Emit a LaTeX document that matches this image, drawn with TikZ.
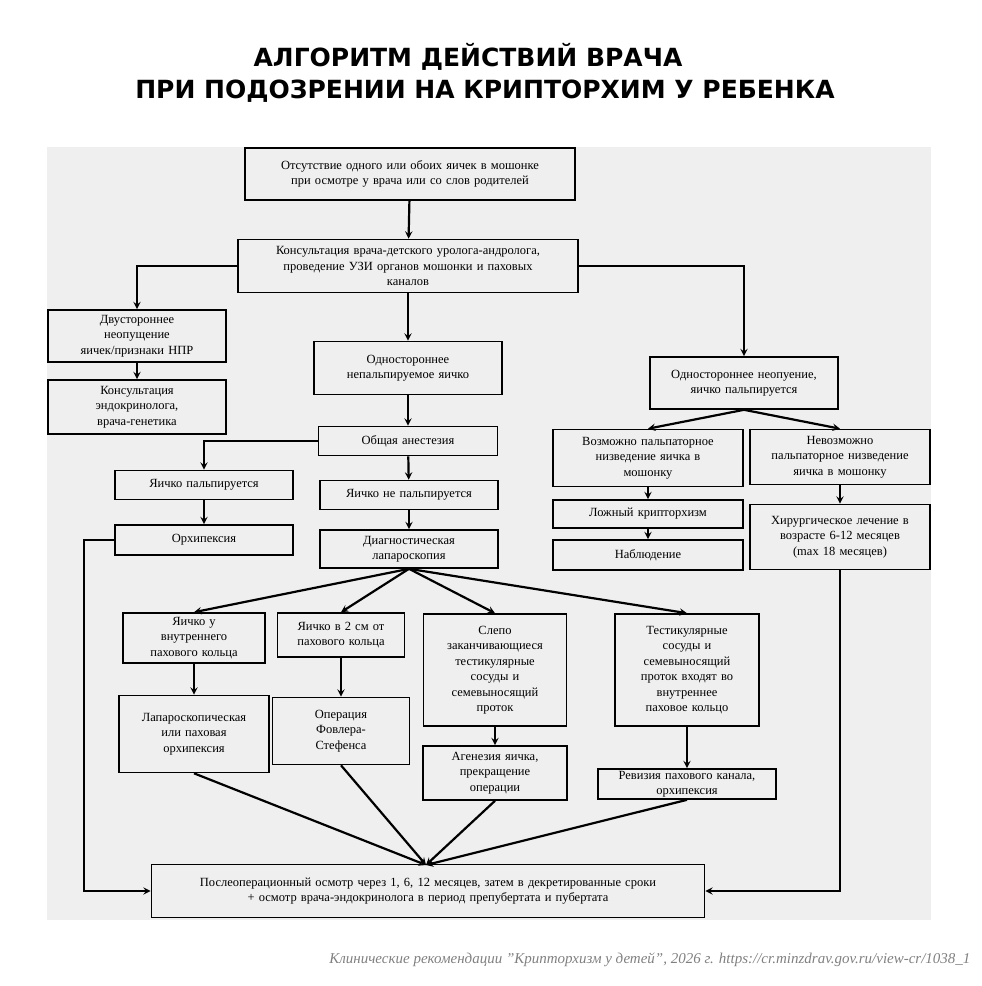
\documentclass[tikz,border=0pt]{standalone}
\usepackage{fontspec}
\setmainfont{Liberation Serif}
\newfontfamily\titlefont{DejaVu Sans}
\usetikzlibrary{arrows}
\definecolor{bgGray}{HTML}{EFEFEF}
\tikzstyle{block} = [rectangle, draw=black, line width=1.6pt, fill=bgGray, inner sep=0pt, align=center, font=\fontsize{12.5}{15.5}\selectfont]
\tikzstyle{arrow} = [line width=2.2pt,->,>=stealth]
\tikzset{bsize/.style 2 args={minimum width=#1pt, minimum height=#2pt, text width=#1pt-4pt}}

\begin{document}
\begin{tikzpicture}[x=1pt, y=-1pt]
\useasboundingbox (0,0) rectangle (982,986);
% Background and title
\fill[bgGray] (47,147) rectangle (931,920);
\node[font=\titlefont\bfseries\fontsize{25}{30}\selectfont] (title1) at (468,57) {АЛГОРИТМ ДЕЙСТВИЙ ВРАЧА};
\node[font=\titlefont\bfseries\fontsize{25}{30}\selectfont] (title2) at (485,91) {ПРИ ПОДОЗРЕНИИ НА КРИПТОРХИМ У РЕБЕНКА};
% Define nodes
\node (absent) [block, bsize={330}{52}] at (410,174) {Отсутствие одного или обоих яичек в мошонке\\при осмотре у врача или со слов родителей};
\node (consult) [block, bsize={340}{53}] at (408,266) {Консультация врача-детского уролога-андролога,\\проведение УЗИ органов мошонки и паховых\\каналов};
\node (bilateral) [block, bsize={178}{52}] at (137,336) {Двустороннее\\неопущение\\яичек/признаки НПР};
\node (endo) [block, bsize={178}{54}] at (137,407) {Консультация\\эндокринолога,\\врача-генетика};
\node (nonpalp) [block, bsize={188}{53}] at (408,368) {Одностороннее\\непальпируемое яичко};
\node (palp) [block, bsize={188}{52}] at (744,383) {Одностороннее неопуение,\\яичко пальпируется};
\node (anest) [block, bsize={179}{29}] at (408,441) {Общая анестезия};
\node (ypalp) [block, bsize={178}{29}] at (204,485) {Яичко пальпируется};
\node (orch) [block, bsize={178}{30}] at (204,540) {Орхипексия};
\node (ynonpalp) [block, bsize={178}{29}] at (409,495) {Яичко не пальпируется};
\node (lap) [block, bsize={178}{38}] at (409,549) {Диагностическая\\лапароскопия};
\node (possible) [block, bsize={190}{57}] at (648,458) {Возможно пальпаторное\\низведение яичка в\\мошонку};
\node (impossible) [block, bsize={180}{55}] at (840,457) {Невозможно\\пальпаторное низведение\\яичка в мошонку};
\node (falsecr) [block, bsize={190}{28}] at (648,514) {Ложный крипторхизм};
\node (observe) [block, bsize={190}{30}] at (648,555) {Наблюдение};
\node (surgery) [block, bsize={180}{65}] at (840,537) {Хирургическое лечение в\\возрасте 6-12 месяцев\\(max 18 месяцев)};
\node (inring) [block, bsize={142}{50}] at (194,638) {Яичко у\\внутреннего\\пахового кольца};
\node (twocm) [block, bsize={127}{44}] at (341,635) {Яичко в 2 см от\\пахового кольца};
\node (blind) [block, bsize={143}{112}] at (495,670) {Слепо\\заканчивающиеся\\тестикулярные\\сосуды и\\семевыносящий\\проток};
\node (enter) [block, bsize={144}{112}] at (687,670) {Тестикулярные\\сосуды и\\семевыносящий\\проток входят во\\внутреннее\\паховое кольцо};
\node (laporch) [block, bsize={150}{77}] at (194,734) {Лапароскопическая\\или паховая\\орхипексия};
\node (fowler) [block, bsize={137}{67}] at (341,731) {Операция\\Фовлера-\\Стефенса};
\node (agen) [block, bsize={144}{54}] at (495,773) {Агенезия яичка,\\прекращение\\операции};
\node (revis) [block, bsize={178}{30}] at (687,784) {Ревизия пахового канала,\\орхипексия};
\node (followup) [block, bsize={553}{53}] at (428,891) {Послеоперационный осмотр через 1, 6, 12 месяцев, затем в декретированные сроки\\+ осмотр врача-эндокринолога в период препубертата и пубертата};
\coordinate (meet) at (426,865);
% Connect nodes with arrows
\draw [arrow] (absent) -- (consult);
\draw [arrow] (consult.west) -| (bilateral.north);
\draw [arrow] (consult) -- (nonpalp);
\draw [arrow] (consult.east) -| (palp.north);
\draw [arrow] (bilateral) -- (endo);
\draw [arrow] (nonpalp) -- (anest);
\draw [arrow] (anest.west) -| (ypalp.north);
\draw [arrow] (anest) -- (ynonpalp);
\draw [arrow] (ypalp) -- (orch);
\draw [arrow] (ynonpalp) -- (lap);
\draw [arrow] (orch.west) -- ++(-30,0) |- (followup.west);
\draw [arrow] (palp.south) -- (possible.north);
\draw [arrow] (palp.south) -- (impossible.north);
\draw [arrow] (possible) -- (falsecr);
\draw [arrow] (falsecr) -- (observe);
\draw [arrow] (impossible) -- (surgery);
\draw [arrow] (surgery.south) |- (followup.east);
\draw [arrow] (lap.south) -- (inring.north);
\draw [arrow] (lap.south) -- (twocm.north);
\draw [arrow] (lap.south) -- (blind.north);
\draw [arrow] (lap.south) -- (enter.north);
\draw [arrow] (inring) -- (laporch);
\draw [arrow] (twocm) -- (fowler);
\draw [arrow] (blind) -- (agen);
\draw [arrow] (enter) -- (revis);
\draw [arrow] (laporch.south) -- (meet);
\draw [arrow] (fowler.south) -- (meet);
\draw [arrow] (agen.south) -- (meet);
\draw [arrow] (revis.south) -- (meet);
% Source
\node[anchor=east, text=gray, font=\itshape\fontsize{15}{18}\selectfont] (source) at (974,960) {Клинические рекомендации "Крипторхизм у детей", 2026 г. https://cr.minzdrav.gov.ru/view-cr/1038\_1};
\end{tikzpicture}
\end{document}
